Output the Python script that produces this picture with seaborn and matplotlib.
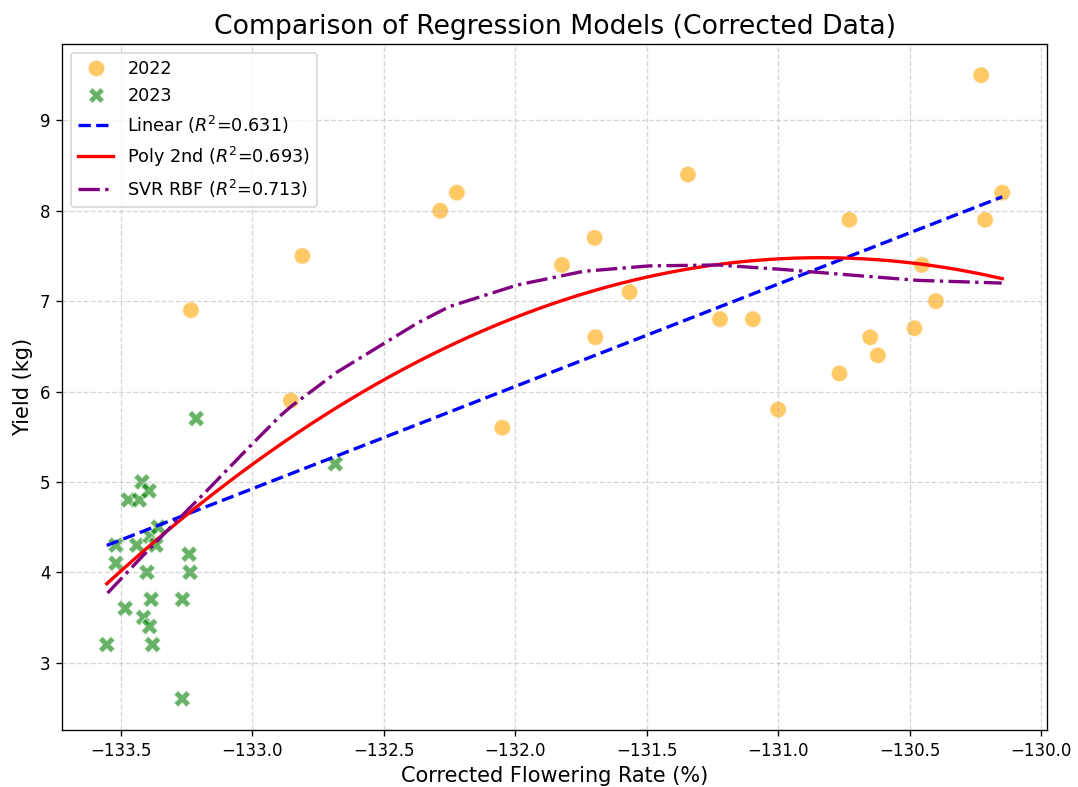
import numpy as np
import pandas as pd
import matplotlib
matplotlib.use("Agg")
import matplotlib.pyplot as plt
import seaborn as sns

# --- data ---
x_2022 = [-133.233, -132.853, -132.809, -132.285, -132.222, -132.049, -131.822,
          -131.698, -131.695, -131.565, -131.343, -131.221, -131.096, -131.0,
          -130.767, -130.729, -130.650, -130.621, -130.482, -130.454, -130.40,
          -130.228, -130.213, -130.148]
y_2022 = [6.9, 5.9, 7.5, 8.0, 8.2, 5.6, 7.4, 7.7, 6.6, 7.1, 8.4, 6.8, 6.8, 5.8,
          6.2, 7.9, 6.6, 6.4, 6.7, 7.4, 7.0, 9.5, 7.9, 8.2]

x_2023 = [-133.553, -133.518, -133.518, -133.483, -133.471, -133.439, -133.429,
          -133.419, -133.413, -133.400, -133.392, -133.390, -133.388, -133.384,
          -133.379, -133.366, -133.357, -133.266, -133.265, -133.240, -133.236,
          -133.213, -132.684]
y_2023 = [3.2, 4.3, 4.1, 3.6, 4.8, 4.3, 4.8, 5.0, 3.5, 4.0, 4.9, 3.4, 4.4, 3.7,
          3.2, 4.3, 4.5, 2.6, 3.7, 4.2, 4.0, 5.7, 5.2]

# SVR RBF model curve
svr_x = [-133.55, -133.42, -133.29, -133.18, -133.08, -133.01, -132.89, -132.85,
         -132.68, -132.50, -132.37, -132.25, -131.99, -131.74, -131.49, -131.23,
         -130.98, -130.73, -130.47, -130.15]
svr_y = [3.77, 4.17, 4.56, 4.88, 5.18, 5.39, 5.74, 5.84, 6.21, 6.53, 6.76, 6.94,
         7.18, 7.33, 7.39, 7.40, 7.35, 7.29, 7.23, 7.20]

years = ["2022", "2023"]
model_labels = ["Linear ($R^2$=0.631)", "Poly 2nd ($R^2$=0.693)", "SVR RBF ($R^2$=0.713)"]

df = pd.DataFrame({
    "x": x_2022 + x_2023,
    "y": y_2022 + y_2023,
    "Year": [years[0]] * len(x_2022) + [years[1]] * len(x_2023),
})

all_x = np.array(df["x"])
all_y = np.array(df["y"])
xs = np.linspace(all_x.min(), all_x.max(), 200)
lin = np.polyfit(all_x, all_y, 1)
poly = np.polyfit(all_x, all_y, 2)

fig = plt.figure(figsize=(1078 / 120, 787 / 120), dpi=120)
ax = fig.add_axes([62 / 1078, 1 - 730 / 787, 985 / 1078, 686 / 787])

sns.scatterplot(data=df, x="x", y="y", hue="Year", style="Year",
                palette={"2022": "orange", "2023": "green"},
                markers={"2022": "o", "2023": "X"},
                s=100, alpha=0.6, ax=ax)

ax.plot(xs, np.polyval(lin, xs), color="blue", linestyle="--", lw=2, label=model_labels[0])
ax.plot(xs, np.polyval(poly, xs), color="red", linestyle="-", lw=2, label=model_labels[1])
ax.plot(svr_x, svr_y, color="purple", linestyle="-.", lw=2, label=model_labels[2])

ax.set_title("Comparison of Regression Models (Corrected Data)", fontsize=16)
ax.set_xlabel("Corrected Flowering Rate (%)", fontsize=12.5)
ax.set_ylabel("Yield (kg)", fontsize=12.5)
ax.grid(True, linestyle="--", alpha=0.5)
ax.legend(loc="upper left", fontsize=10.6)

fig.savefig("out.png", dpi=120)
